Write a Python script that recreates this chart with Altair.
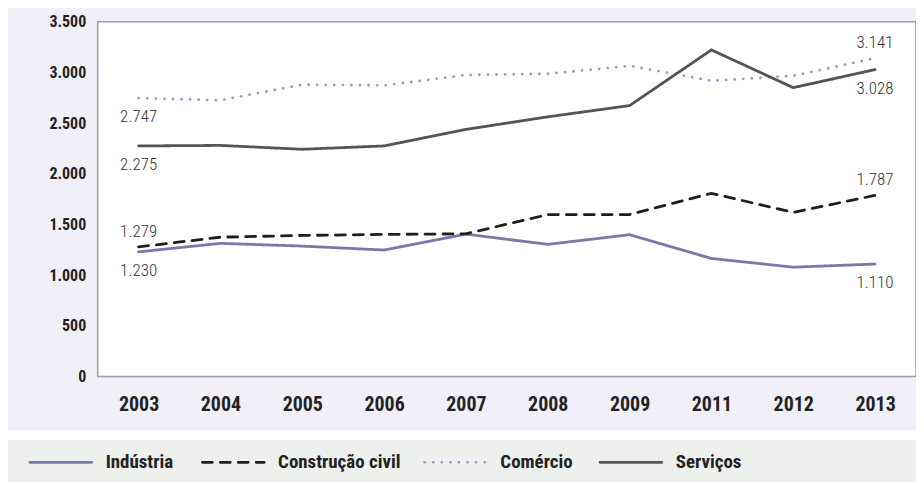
import altair as alt
import pandas as pd

years = ["2003", "2004", "2005", "2006", "2007", "2008", "2009", "2011", "2012", "2013"]
series = ["Indústria", "Construção civil", "Comércio", "Serviços"]
industria = [1230, 1314, 1287, 1248, 1405, 1304, 1399, 1165, 1079, 1110]
construcao = [1279, 1375, 1392, 1402, 1408, 1598, 1598, 1807, 1620, 1787]
comercio = [2747, 2725, 2879, 2872, 2975, 2987, 3065, 2918, 2967, 3141]
servicos = [2275, 2280, 2242, 2275, 2438, 2562, 2673, 3222, 2850, 3028]
y_ticks = [0, 500, 1000, 1500, 2000, 2500, 3000, 3500]

colors = ["#7b79a8", "#1e1e1e", "#9c98d0", "#555555"]
dashes = [[1, 0], [10, 8], [0.1, 8.5], [1, 0]]
widths = [2.8, 2.8, 4, 2.8]

# labelled points: above / below the line
labels_above = [("Construção civil", "2003"), ("Comércio", "2013"), ("Construção civil", "2013")]
labels_below = [("Comércio", "2003"), ("Serviços", "2003"), ("Indústria", "2003"),
                ("Serviços", "2013"), ("Indústria", "2013")]

values = dict(zip(series, [industria, construcao, comercio, servicos]))
rows = []
for s in series:
    for yr, v in zip(years, values[s]):
        rows.append({"serie": s, "ano": yr, "valor": v})
df = pd.DataFrame(rows)


def label_df(pairs):
    return pd.DataFrame([{"serie": s, "ano": a, "valor": values[s][years.index(a)]} for s, a in pairs])


FONT = "Roboto Condensed, Noto Sans Condensed, DejaVu Sans Condensed, sans-serif"
W, H = 821, 356

# legend layout (pixel offsets from plot origin)
LEG_X = [-68, 105, 328, 504]
LEG_Y = 442
leg = pd.DataFrame({"serie": series, "lx": LEG_X})
leg["lx2"] = leg["lx"] + 62
leg["tx"] = leg["lx"] + 76

color_scale = alt.Scale(domain=series, range=colors)
dash_scale = alt.Scale(domain=series, range=dashes)
width_scale = alt.Scale(domain=series, range=widths)

one = pd.DataFrame({"k": [0]})
panel = alt.Chart(one).mark_rect(color="#f1f0f8").encode(
    x=alt.value(-92), x2=alt.value(830), y=alt.value(-16), y2=alt.value(410))
band = alt.Chart(one).mark_rect(color="#eef0ee").encode(
    x=alt.value(-92), x2=alt.value(830), y=alt.value(420), y2=alt.value(470))
plotbg = alt.Chart(one).mark_rect(color="white", stroke="#a0a0a0", strokeWidth=1.5).encode(
    x=alt.value(0), x2=alt.value(W), y=alt.value(0), y2=alt.value(H))

xenc = alt.X("ano:O", sort=years, scale=alt.Scale(domain=years, type="point", padding=0.5),
             axis=alt.Axis(title=None, labelAngle=0, ticks=False, domain=False,
                           labelFont=FONT, labelFontWeight="bold", labelFontSize=20,
                           labelColor="#222", labelPadding=18, zindex=1))
yenc = alt.Y("valor:Q", scale=alt.Scale(domain=[0, 3500], nice=False, zero=True),
             axis=alt.Axis(title=None, values=y_ticks, ticks=False, domain=False, grid=False,
                           labelFont=FONT, labelFontWeight="bold", labelFontSize=16,
                           labelColor="#222", labelPadding=12, zindex=1,
                           labelExpr="replace(format(datum.value, ',d'), ',', '.')"))

lines = alt.Chart(df).mark_line(strokeCap="round").encode(
    x=xenc, y=yenc,
    color=alt.Color("serie:N", scale=color_scale, legend=None),
    strokeDash=alt.StrokeDash("serie:N", scale=dash_scale, legend=None),
    strokeWidth=alt.StrokeWidth("serie:N", scale=width_scale, legend=None),
)

fmt = "replace(format(datum.valor, ',d'), ',', '.')"
txt_above = alt.Chart(label_df(labels_above)).transform_calculate(lbl=fmt).mark_text(
    font=FONT, fontSize=17, fontWeight=300, color="#333", dy=-15, align="center", baseline="middle").encode(
    x=alt.X("ano:O", sort=years), y="valor:Q", text="lbl:N")
txt_below = alt.Chart(label_df(labels_below)).transform_calculate(lbl=fmt).mark_text(
    font=FONT, fontSize=17, fontWeight=300, color="#333", dy=19, align="center", baseline="middle").encode(
    x=alt.X("ano:O", sort=years), y="valor:Q", text="lbl:N")

leg_lines = alt.Chart(leg).mark_rule(strokeCap="round").encode(
    x=alt.X("lx:Q", scale=None), x2="lx2:Q", y=alt.value(LEG_Y),
    color=alt.Color("serie:N", scale=color_scale, legend=None),
    strokeDash=alt.StrokeDash("serie:N", scale=dash_scale, legend=None),
    strokeWidth=alt.StrokeWidth("serie:N", scale=width_scale, legend=None),
)
leg_text = alt.Chart(leg).mark_text(font=FONT, fontSize=19, fontWeight="bold", color="#222",
                                     align="left", baseline="middle").encode(
    x=alt.X("tx:Q", scale=None), y=alt.value(LEG_Y), text="serie:N")

chart = alt.layer(panel, band, plotbg, lines, txt_above, txt_below, leg_lines, leg_text).properties(
    width=W, height=H,
    autosize=alt.AutoSizeParams(type="none"),
    padding={"left": 90, "top": 13, "right": 0, "bottom": 105},
).configure_view(stroke=None, fill=None).configure(background="white")

chart.save("out.html", embed_options={"renderer": "svg", "actions": False})
